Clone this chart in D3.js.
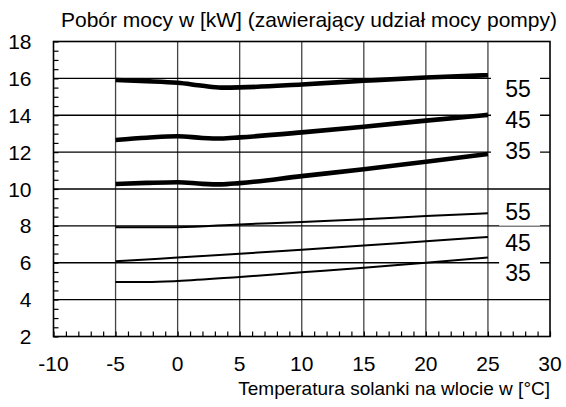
<!DOCTYPE html>
<meta charset="utf-8">
<style>
body { margin: 0; background: #fff; }
text { font-family: "Liberation Sans", Arial, Helvetica, sans-serif; fill: #000; }
.grid line { stroke: #000; stroke-width: 1.3px; }
.grid .v { stroke: #444; }
.frame { fill: none; stroke: #000; stroke-width: 1.6px; }
.minor line { stroke: #000; stroke-width: 1.2px; }
.curve { fill: none; stroke: #000; stroke-linecap: butt; }
</style>
<svg width="566" height="407"></svg>
<script src="https://d3js.org/d3.v7.min.js"></script>
<script>

// inlet brine temperature [°C]
var tempsFine = [-5, -2.5, 0, 2, 3.5, 5, 10, 15, 20, 25];
var tempsCoarse = [-5, -2.5, 0, 5, 10, 15, 20, 25];

// power consumption [kW], upper group (thick lines)
var upper55 = [15.91, 15.85, 15.76, 15.6, 15.5, 15.51, 15.67, 15.87, 16.05, 16.17];
var upper45 = [12.66, 12.78, 12.86, 12.77, 12.74, 12.8, 13.07, 13.38, 13.71, 14.02];
var upper35 = [10.27, 10.33, 10.37, 10.28, 10.25, 10.32, 10.7, 11.07, 11.48, 11.9];

// power consumption [kW], lower group (thin lines)
var lower55 = [7.92, 7.92, 7.93, 8.08, 8.21, 8.36, 8.53, 8.68];
var lower45 = [6.08, 6.18, 6.28, 6.49, 6.71, 6.93, 7.17, 7.4];
var lower35 = [4.96, 4.96, 5.01, 5.23, 5.48, 5.73, 6.0, 6.28];

var seriesNames = ["55", "45", "35"];
// where the series labels sit (in kW)
var upperLabelAt = [15.46, 13.74, 12.08];
var lowerLabelAt = [8.77, 7.09, 5.46];

var xTicks = [-10, -5, 0, 5, 10, 15, 20, 25, 30];
var yTicks = [2, 4, 6, 8, 10, 12, 14, 16, 18];

var title = "Pobór mocy w [kW] (zawierający udział mocy pompy)";
var xTitle = "Temperatura solanki na wlocie w [°C]";

var svg = d3.select("svg"),
    margin = {top: 41.5, right: 16, bottom: 70.5, left: 53.5},
    width = +svg.attr("width") - margin.left - margin.right,
    height = +svg.attr("height") - margin.top - margin.bottom,
    g = svg.append("g").attr("transform", "translate(" + margin.left + "," + margin.top + ")");

var x = d3.scaleLinear().domain([-10, 30]).range([0, width]);
var y = d3.scaleLinear().domain([2, 18]).range([height, 0]);

// grid
var grid = g.append("g").attr("class", "grid");
grid.selectAll(".v")
  .data(d3.range(-5, 30, 5))
  .enter().append("line")
    .attr("class", "v")
    .attr("x1", function(d) { return x(d); })
    .attr("x2", function(d) { return x(d); })
    .attr("y1", 0).attr("y2", height);
grid.selectAll(".h")
  .data(d3.range(4, 18, 2))
  .enter().append("line")
    .attr("class", "h")
    .attr("x1", 0).attr("x2", width)
    .attr("y1", function(d) { return y(d); })
    .attr("y2", function(d) { return y(d); });

// minor ticks, pointing inside
g.append("g")
  .attr("class", "minor")
  .call(d3.axisLeft(y).tickValues(d3.range(2, 18.01, 0.5)).tickSize(-5).tickFormat(""))
  .call(function(a) { a.select(".domain").remove(); });
g.append("g")
  .attr("class", "minor")
  .attr("transform", "translate(0," + height + ")")
  .call(d3.axisBottom(x).tickValues(d3.range(-10, 30.01, 1)).tickSize(-5).tickFormat(""))
  .call(function(a) { a.select(".domain").remove(); });

g.append("rect").attr("class", "frame")
  .attr("width", width).attr("height", height);

// tick labels
g.append("g")
  .selectAll("text")
  .data(yTicks)
  .enter().append("text")
    .attr("x", -22)
    .attr("y", function(d) { return y(d); })
    .attr("dy", "0.36em")
    .attr("text-anchor", "end")
    .style("font-size", "21px")
    .text(function(d) { return d; });

g.append("g")
  .selectAll("text")
  .data(xTicks)
  .enter().append("text")
    .attr("x", function(d) { return x(d); })
    .attr("y", height + 27)
    .attr("dy", "0.36em")
    .attr("text-anchor", "middle")
    .style("font-size", "21px")
    .text(function(d) { return d; });

// label backgrounds break the grid lines
function labels(vals, x0) {
  var lg = g.append("g");
  lg.selectAll("rect")
    .data(vals)
    .enter().append("rect")
      .attr("x", x0)
      .attr("y", function(d) { return y(d) - 14; })
      .attr("width", x(29.2) - x0)
      .attr("height", 28)
      .attr("fill", "#fff");
  lg.selectAll("text")
    .data(vals)
    .enter().append("text")
      .attr("x", x(25) + 30)
      .attr("y", function(d) { return y(d); })
      .attr("dy", "0.36em")
      .attr("text-anchor", "middle")
      .style("font-size", "23px")
      .text(function(d, i) { return seriesNames[i]; });
}
labels(upperLabelAt, x(25.25));
labels(lowerLabelAt, x(25.9));

// curves
var line = d3.line().curve(d3.curveMonotoneX);

function curve(xs, ys, w) {
  g.append("path")
    .attr("class", "curve")
    .attr("stroke-width", w)
    .attr("d", line(xs.map(function(t, i) { return [x(t), y(ys[i])]; })));
}
[upper55, upper45, upper35].forEach(function(s) { curve(tempsFine, s, 4.6); });
[lower55, lower45, lower35].forEach(function(s) { curve(tempsCoarse, s, 2); });

// titles
svg.append("text")
    .attr("x", 61)
    .attr("y", 27)
    .style("font-size", "21px")
    .text(title);

svg.append("text")
    .attr("x", margin.left + width)
    .attr("y", 395)
    .attr("text-anchor", "end")
    .style("font-size", "19px")
    .text(xTitle);

</script>
